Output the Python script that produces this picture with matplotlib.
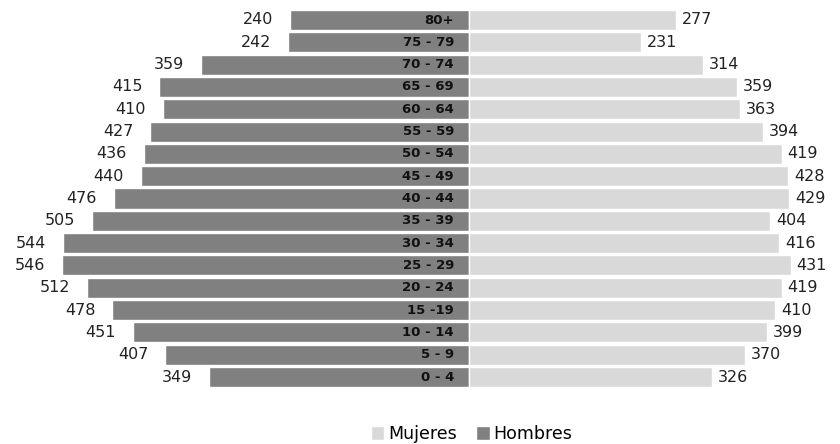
import numpy as np
import matplotlib.pyplot as plt

plt.rcParams['font.family'] = ['DejaVu Sans']

# Age groups, from top to bottom
grupos = ["80+", "75 - 79", "70 - 74", "65 - 69", "60 - 64", "55 - 59", "50 - 54",
          "45 - 49", "40 - 44", "35 - 39", "30 - 34", "25 - 29", "20 - 24",
          "15 -19", "10 - 14", "5 - 9", "0 - 4"]
hombres = [240, 242, 359, 415, 410, 427, 436, 440, 476, 505, 544, 546, 512, 478, 451, 407, 349]
mujeres = [277, 231, 314, 359, 363, 394, 419, 428, 429, 404, 416, 431, 419, 410, 399, 370, 326]

col_h = '#808080'
col_m = '#d9d9d9'

fig = plt.figure(figsize=(8.4, 4.44), dpi=100)
ax = fig.add_axes([0, 0, 1, 1])

n = len(grupos)
y = np.arange(n)[::-1]  # top group at highest y

ax.barh(y, [-v for v in hombres], height=0.9, color=col_h, edgecolor='white', linewidth=1, label='Hombres')
ax.barh(y, mujeres, height=0.9, color=col_m, edgecolor='white', linewidth=1, label='Mujeres')

# pixel scale: ~0.746 px per unit, centre at x=469 px
ppu = 0.746
ax.set_xlim(-469 / ppu, (840 - 469) / ppu)
# bar centres: top at 20 px, bottom at 377 px (from top)
pitch = (377 - 20) / (n - 1)
top_y = (n - 1) + 20 / pitch
bottom_y = (n - 1) - (444 - 20) / pitch
ax.set_ylim(bottom_y, top_y)
ax.axis('off')

for yi, g, h, m in zip(y, grupos, hombres, mujeres):
    ax.text(-15 / ppu, yi, g, ha='right', va='center', fontsize=9.5, fontweight='bold', color='#111111')
    ax.text(-h - 17 / ppu, yi, str(h), ha='right', va='center', fontsize=11.5, color='#222222')
    ax.text(m + 6 / ppu, yi, str(m), ha='left', va='center', fontsize=11.5, color='#222222')

handles, labels = ax.get_legend_handles_labels()
ax.legend(handles[::-1], labels[::-1], loc='lower center', bbox_to_anchor=(0.561, 0.0),
          ncol=2, frameon=False, fontsize=12.5, handlelength=0.8, handleheight=0.8,
          handletextpad=0.2, columnspacing=1.1, borderaxespad=0, borderpad=0.05)

fig.savefig('out.png', dpi=100)
